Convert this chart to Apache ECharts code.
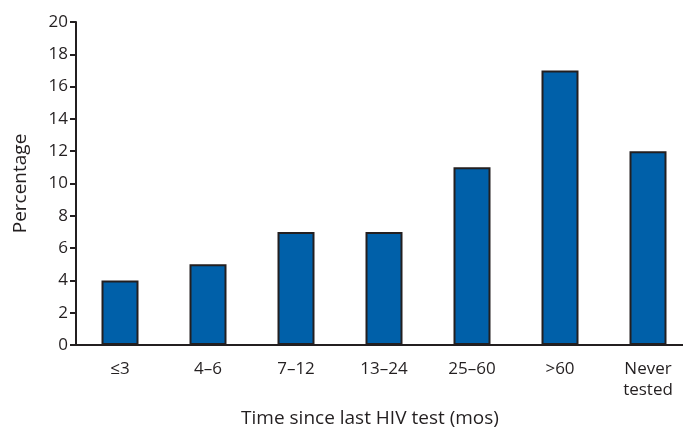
<!DOCTYPE html>
<html><head><meta charset="utf-8">
<script src="https://cdn.jsdelivr.net/npm/echarts@6/dist/echarts.min.js"></script>
<style>html,body{margin:0;background:#fff}#c{width:683px;height:433px}</style>
</head><body><div id="c"></div>
<script>
const categories = ['≤3', '4–6', '7–12', '13–24', '25–60', '>60', 'Never\ntested'];
const percentages = [4, 5, 7, 7, 11, 17, 12];

const font = '"Open Sans", "Noto Sans", sans-serif';
const ink = '#231f20';

const chart = echarts.init(document.getElementById('c'));
chart.setOption({
  animation: false,
  grid: { left: 76, width: 616, top: 22, height: 323, containLabel: false, outerBoundsMode: 'none' },
  xAxis: {
    type: 'category',
    data: categories,
    name: 'Time since last HIV test (mos)',
    nameLocation: 'middle',
    nameGap: 64,
    nameTextStyle: { fontSize: 19, color: ink, fontFamily: font, padding: [0, 0, 0, -28] },
    axisLine: { lineStyle: { color: ink, width: 2 } },
    axisTick: { alignWithLabel: true, length: 8, lineStyle: { color: ink, width: 2 } },
    axisLabel: { fontSize: 17, color: ink, fontFamily: font, margin: 14, lineHeight: 21 }
  },
  yAxis: {
    type: 'value',
    min: 0, max: 20, interval: 2,
    name: 'Percentage',
    nameLocation: 'middle',
    nameGap: 46,
    nameTextStyle: { fontSize: 19, color: ink, fontFamily: font },
    axisLine: { show: true, lineStyle: { color: ink, width: 2 } },
    axisTick: { show: true, length: 6, lineStyle: { color: ink, width: 2 } },
    axisLabel: { fontSize: 17, color: ink, fontFamily: font, margin: 8 },
    splitLine: { show: false }
  },
  series: [{
    type: 'bar',
    data: percentages,
    barWidth: 37,
    itemStyle: { color: '#0060a9', borderColor: ink, borderWidth: 2 }
  }]
});
</script></body></html>
